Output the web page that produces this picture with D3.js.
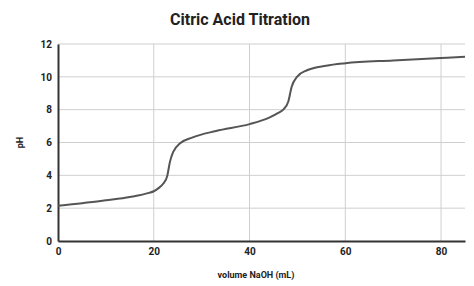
<!DOCTYPE html>
<html>
<head>
<meta charset="utf-8">
<script src="https://cdn.jsdelivr.net/npm/d3@7"></script>
<style>
  body { margin: 0; background: #fff; }
  text { font-family: Roboto, "Noto Sans", sans-serif; }
</style>
</head>
<body>
<script>
// titration curve
var volume = [0, 5, 10, 15, 19, 20, 21, 22, 22.8, 23.4, 24.1, 25.5, 28, 33, 40, 44, 46, 47.1, 48.1, 48.8, 49.9, 52, 56, 60, 70, 80, 85];
var pH     = [2.15, 2.3, 2.48, 2.68, 2.93, 3.03, 3.22, 3.5, 3.95, 4.85, 5.45, 5.95, 6.3, 6.7, 7.12, 7.5, 7.8, 8.02, 8.5, 9.4, 10.0, 10.4, 10.68, 10.83, 11.0, 11.15, 11.22];
var xTicks = [0, 20, 40, 60, 80];
var yTicks = [0, 2, 4, 6, 8, 10, 12];

var width = 474, height = 286;
var margin = {top: 44, right: 10, bottom: 45, left: 58};

var svg = d3.select("body").append("svg")
    .attr("width", width)
    .attr("height", height);

var x = d3.scaleLinear().domain([0, 85]).range([margin.left, 465]);
var y = d3.scaleLinear().domain([0, 12]).range([241, margin.top]);

// gridlines
svg.append("g").selectAll("line.h")
  .data(yTicks.filter(function(d) { return d > 0; }))
  .enter().append("line")
    .attr("x1", x(0)).attr("x2", x(85))
    .attr("y1", function(d) { return y(d); })
    .attr("y2", function(d) { return y(d); })
    .attr("stroke", "#cfcfcf").attr("stroke-width", 1);

svg.append("g").selectAll("line.v")
  .data(xTicks.filter(function(d) { return d > 0; }))
  .enter().append("line")
    .attr("x1", function(d) { return x(d); })
    .attr("x2", function(d) { return x(d); })
    .attr("y1", y(0)).attr("y2", y(12))
    .attr("stroke", "#cfcfcf").attr("stroke-width", 1);

// axes
var xAxis = d3.axisBottom(x).tickValues(xTicks).tickSize(0).tickPadding(7);
var yAxis = d3.axisLeft(y).tickValues(yTicks).tickSize(0).tickPadding(6);

var gx = svg.append("g").attr("transform", "translate(0," + y(0) + ")").call(xAxis);
var gy = svg.append("g").attr("transform", "translate(" + x(0) + ",0)").call(yAxis);

[gx, gy].forEach(function(g) {
  g.select(".domain").attr("stroke", "#333").attr("stroke-width", 2);
  g.selectAll("text")
    .attr("fill", "#222")
    .style("font-size", "10px")
    .style("font-weight", "bold")
    .style("font-family", "Roboto, sans-serif");
});

// curve
var pts = volume.map(function(v, i) { return [v, pH[i]]; });
var line = d3.line()
    .x(function(d) { return x(d[0]); })
    .y(function(d) { return y(d[1]); })
    .curve(d3.curveMonotoneX);

svg.append("path")
    .datum(pts)
    .attr("d", line)
    .attr("fill", "none")
    .attr("stroke", "#555")
    .attr("stroke-width", 2);

// title and axis labels
svg.append("text")
    .attr("x", 240).attr("y", 25)
    .attr("text-anchor", "middle")
    .style("font-size", "16px")
    .style("font-weight", "bold")
    .attr("fill", "#222")
    .text("Citric Acid Titration");

svg.append("text")
    .attr("x", 256).attr("y", 278)
    .attr("text-anchor", "middle")
    .style("font-size", "9px")
    .style("font-weight", "bold")
    .attr("fill", "#222")
    .text("volume NaOH (mL)");

svg.append("text")
    .attr("transform", "translate(23," + y(6) + ") rotate(-90)")
    .attr("text-anchor", "middle")
    .style("font-size", "9px")
    .style("font-weight", "bold")
    .attr("fill", "#222")
    .text("pH");
</script>
</body>
</html>
